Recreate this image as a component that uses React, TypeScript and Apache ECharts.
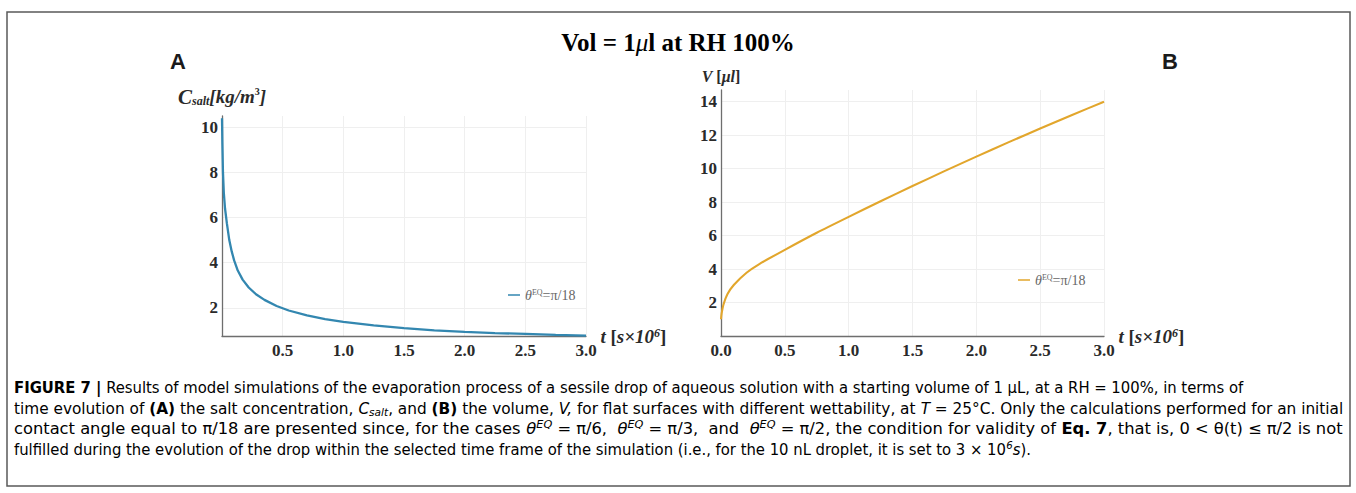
import React, { useEffect, useRef } from 'react';
import * as echarts from 'echarts';

// Panel A: salt concentration vs time
const tA = [0, 0.003, 0.008, 0.015, 0.025, 0.04, 0.06, 0.08, 0.1, 0.13, 0.17, 0.22, 0.28, 0.35, 0.45, 0.55, 0.7, 0.85, 1.0, 1.25, 1.5, 1.75, 2.0, 2.25, 2.5, 2.75, 3.0];
const cSalt = [10.4, 9.3, 8.0, 7.1, 6.4, 5.75, 5.0, 4.5, 4.1, 3.65, 3.25, 2.9, 2.6, 2.35, 2.08, 1.88, 1.66, 1.5, 1.38, 1.22, 1.1, 1.0, 0.93, 0.88, 0.84, 0.8, 0.77];

// Panel B: volume vs time
const tB = [0, 0.005, 0.02, 0.05, 0.1, 0.2, 0.3, 0.5, 0.75, 1.0, 1.25, 1.5, 1.75, 2.0, 2.25, 2.5, 2.75, 3.0];
const vol = [1.0, 1.35, 1.9, 2.5, 3.05, 3.78, 4.3, 5.15, 6.17, 7.12, 8.05, 8.96, 9.85, 10.72, 11.57, 12.4, 13.21, 14.0];

const yTicksA = [2, 4, 6, 8, 10];
const yTicksB = [2, 4, 6, 8, 10, 12, 14];

const nameA = 'θEQ=π/18 (A)';
const nameB = 'θEQ=π/18 (B)';

const SERIF = '"Liberation Serif", "DejaVu Serif", serif';
const SANS = '"Liberation Sans", Arial, sans-serif';
const NARROW = '"DejaVu Sans Condensed", "Liberation Sans", sans-serif';

const tickLabel = {
  fontFamily: SERIF,
  fontWeight: 'bold' as const,
  fontSize: 17,
  color: '#2a2a2a',
};

const axisLineStyle = { color: '#6e6e6e', width: 1.3 };
const gridLine = { show: true, lineStyle: { color: '#efefef', width: 1 } };

const xNameRich = {
  i: { fontFamily: SERIF, fontStyle: 'italic', fontWeight: 'bold', fontSize: 19, color: '#2a2a2a' },
  n: { fontFamily: SERIF, fontWeight: 'bold', fontSize: 19, color: '#2a2a2a' },
  sup: { fontFamily: SERIF, fontStyle: 'italic', fontWeight: 'bold', fontSize: 12, color: '#2a2a2a', verticalAlign: 'top' },
};
const xName = '{i|t}{n| [}{i|s×10}{sup|6}{n|]}';

const legendRich = {
  i: { fontFamily: SERIF, fontStyle: 'italic', fontSize: 14, color: '#666' },
  n: { fontFamily: SERIF, fontSize: 14, color: '#666' },
  sup: { fontFamily: SERIF, fontSize: 8, color: '#666', verticalAlign: 'top' },
};

const CAP_SIZE = 16;
const capRich: Record<string, any> = {
  n: { fontFamily: NARROW, fontSize: CAP_SIZE, color: '#231f20', lineHeight: 19 },
  b: { fontFamily: NARROW, fontSize: CAP_SIZE, fontWeight: 'bold', color: '#231f20', lineHeight: 19 },
  i: { fontFamily: NARROW, fontSize: CAP_SIZE, fontStyle: 'italic', color: '#231f20', lineHeight: 19 },
  sup: { fontFamily: NARROW, fontSize: 11, fontStyle: 'italic', color: '#231f20', verticalAlign: 'top' },
  sub: { fontFamily: NARROW, fontSize: 11, fontStyle: 'italic', color: '#231f20', verticalAlign: 'bottom' },
};

const captionLines = [
  '{b|FIGURE 7 |}{n| Results of model simulations of the evaporation process of a sessile drop of aqueous solution with a starting volume of 1 μL, at a RH = 100%, in terms of}',
  '{n|time evolution of }{b|(A)}{n| the salt concentration, }{i|C}{sub|salt}{n|, and }{b|(B)}{n| the volume, }{i|V,}{n| for flat surfaces with different wettability, at }{i|T}{n| = 25°C. Only the calculations performed for an initial}',
  '{n|contact angle equal to π/18 are presented since, for the cases }{i|θ}{sup|EQ}{n| = π/6,  }{i|θ}{sup|EQ}{n| = π/3,  and  }{i|θ}{sup|EQ}{n| = π/2, the condition for validity of }{b|Eq. 7}{n|, that is, 0 < θ(t) ≤ π/2 is not}',
  '{n|fulfilled during the evolution of the drop within the selected time frame of the simulation (i.e., for the 10 nL droplet, it is set to 3 × 10}{sup|6}{i|s}{n|).}',
];
const captionY = [388, 409, 429, 450];
const captionEnd = [1172, 1343, 1343, 1103];
const captionJustified = [false, true, true, false];
const CAPTION_X = 14;

function measureRich(text: string): number {
  const canvas = document.createElement('canvas');
  const ctx = canvas.getContext('2d');
  if (!ctx) return 0;
  let w = 0;
  const re = /\{(\w+)\|([^}]*)\}/g;
  let m: RegExpExecArray | null;
  while ((m = re.exec(text))) {
    const st = capRich[m[1]];
    ctx.font = `${st.fontStyle || 'normal'} ${st.fontWeight || 'normal'} ${st.fontSize}px ${st.fontFamily}`;
    w += ctx.measureText(m[2]).width;
  }
  return w;
}

function buildOption() {
  const dataA = tA.map((t, k) => [t, cSalt[k]]);
  const dataB = tB.map((t, k) => [t, vol[k]]);

  const legendCommon = {
    icon: 'rect',
    itemWidth: 12,
    itemHeight: 1.5,
    selectedMode: false,
    formatter: () => '{i|θ}{sup|EQ}{n|=π/18}',
    textStyle: { rich: legendRich },
  };

  const widths = captionLines.map(measureRich);
  // common scale for the free (ragged) lines, stretch for justified lines
  let freeTarget = 0;
  let freeW = 0;
  captionLines.forEach((_, k) => {
    if (!captionJustified[k]) {
      freeTarget += captionEnd[k] - CAPTION_X;
      freeW += widths[k];
    }
  });
  const freeScale = freeW > 0 ? freeTarget / freeW : 1;

  const captionGraphics = captionLines.map((line, k) => {
    const w = widths[k];
    const sx = captionJustified[k] ? (w > 0 ? (captionEnd[k] - CAPTION_X) / w : 1) : freeScale;
    return {
      type: 'text',
      x: CAPTION_X,
      y: captionY[k] - 10,
      scaleX: sx,
      scaleY: 1,
      originX: 0,
      originY: 0,
      style: { text: line, rich: capRich, verticalAlign: 'top', align: 'left' },
    };
  });

  return {
    animation: false,
    backgroundColor: '#ffffff',
    grid: [
      { left: 222, top: 116, width: 364, height: 220, containLabel: false },
      { left: 721, top: 90, width: 383, height: 246, containLabel: false },
    ],
    legend: [
      { ...legendCommon, data: [nameA], left: 503, top: 283 },
      { ...legendCommon, data: [nameB], left: 1013, top: 268 },
    ],
    xAxis: [
      {
        type: 'value', gridIndex: 0, min: 0, max: 3, interval: 0.5,
        axisLine: { show: true, onZero: false, lineStyle: axisLineStyle },
        axisTick: { show: false },
        axisLabel: { ...tickLabel, margin: 6, formatter: (v: number) => (v === 0 ? '' : v.toFixed(1)) },
        splitLine: gridLine,
        name: xName, nameLocation: 'end', nameGap: 3,
        nameTextStyle: { rich: xNameRich },
      },
      {
        type: 'value', gridIndex: 1, min: 0, max: 3, interval: 0.5,
        axisLine: { show: true, onZero: false, lineStyle: axisLineStyle },
        axisTick: { show: false },
        axisLabel: { ...tickLabel, margin: 6, formatter: (v: number) => v.toFixed(1) },
        splitLine: gridLine,
        name: xName, nameLocation: 'end', nameGap: 3,
        nameTextStyle: { rich: xNameRich },
      },
    ],
    yAxis: [
      {
        type: 'value', gridIndex: 0, min: 0.75, max: 10.5,
        axisLine: { show: true, onZero: false, lineStyle: axisLineStyle },
        axisTick: { show: false, customValues: yTicksA },
        axisLabel: { ...tickLabel, margin: 4, customValues: yTicksA },
        splitLine: gridLine,
        name: '{c|C}{sub|salt}{n|[kg/m}{sup|3}{n|]}',
        nameLocation: 'end', nameGap: 9,
        nameTextStyle: {
          rich: {
            c: { fontFamily: SERIF, fontStyle: 'italic', fontWeight: 'bold', fontSize: 21, color: '#2a2a2a' },
            n: { fontFamily: SERIF, fontStyle: 'italic', fontWeight: 'bold', fontSize: 19, color: '#2a2a2a' },
            sub: { fontFamily: SERIF, fontStyle: 'italic', fontWeight: 'bold', fontSize: 12, color: '#2a2a2a', verticalAlign: 'bottom' },
            sup: { fontFamily: SERIF, fontWeight: 'bold', fontSize: 10, color: '#2a2a2a', verticalAlign: 'top' },
          },
        },
      },
      {
        type: 'value', gridIndex: 1, min: 0, max: 14.7,
        axisLine: { show: true, onZero: false, lineStyle: axisLineStyle },
        axisTick: { show: false, customValues: yTicksB },
        axisLabel: { ...tickLabel, margin: 4, customValues: yTicksB },
        splitLine: gridLine,
        name: '{i|V}{n| [}{i|μl}{n|]}',
        nameLocation: 'end', nameGap: 6,
        nameTextStyle: {
          rich: {
            i: { fontFamily: SERIF, fontStyle: 'italic', fontWeight: 'bold', fontSize: 16, color: '#2a2a2a' },
            n: { fontFamily: SERIF, fontWeight: 'bold', fontSize: 16, color: '#2a2a2a' },
          },
        },
      },
    ],
    series: [
      {
        name: nameA, type: 'line', xAxisIndex: 0, yAxisIndex: 0,
        data: dataA, showSymbol: false, smooth: false,
        lineStyle: { color: '#3387b0', width: 2.3 }, itemStyle: { color: '#3387b0' },
      },
      {
        name: nameB, type: 'line', xAxisIndex: 1, yAxisIndex: 1,
        data: dataB, showSymbol: false, smooth: 0.2,
        lineStyle: { color: '#e2a62c', width: 2.1 }, itemStyle: { color: '#e2a62c' },
      },
    ],
    graphic: [
      {
        type: 'rect', silent: true, z: -1,
        shape: { x: 7, y: 12, width: 1343, height: 474 },
        style: { fill: 'none', stroke: '#5a5a5a', lineWidth: 1.5 },
      },
      {
        type: 'text', left: 'center', top: 30,
        style: {
          text: '{b|Vol = 1}{m|μ}{b|l at RH 100%}',
          rich: {
            b: { fontFamily: SERIF, fontWeight: 'bold', fontSize: 25, color: '#1a1a1a' },
            m: { fontFamily: SERIF, fontStyle: 'italic', fontSize: 25, color: '#1a1a1a' },
          },
        },
      },
      {
        type: 'text', left: 170, top: 50,
        style: { text: 'A', font: `bold 22px ${SANS}`, fill: '#1a1a1a' },
      },
      {
        type: 'text', left: 1162, top: 50,
        style: { text: 'B', font: `bold 22px ${SANS}`, fill: '#1a1a1a' },
      },
      ...captionGraphics,
    ],
  };
}

export default function App() {
  const ref = useRef<HTMLDivElement>(null);
  useEffect(() => {
    if (!ref.current) return;
    const chart = echarts.init(ref.current, null, { renderer: 'svg' });
    chart.setOption(buildOption() as any);
    return () => chart.dispose();
  }, []);
  return (
    <div
      ref={ref}
      style={{ position: 'fixed', left: 0, top: 0, width: 1356, height: 493, background: '#fff' }}
    />
  );
}
